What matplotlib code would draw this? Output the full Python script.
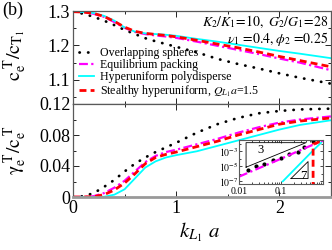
import numpy as np
import matplotlib
matplotlib.use("Agg")
import matplotlib.pyplot as plt
from matplotlib.ticker import MultipleLocator, FixedLocator, NullFormatter, LogLocator

plt.rcParams['font.family'] = ['Liberation Serif', 'DejaVu Serif']
plt.rcParams['mathtext.fontset'] = 'stix'

# wavenumber k_{L1} a
k = [0, 0.1, 0.2, 0.3, 0.4, 0.5, 0.6, 0.7, 0.8, 0.9, 1.0, 1.2, 1.4, 1.6, 1.8, 2.0, 2.2, 2.5]

# top panel: c_e^T / c_T1
c_overlap = [1.298, 1.292, 1.283, 1.272, 1.259, 1.245, 1.233, 1.221, 1.212, 1.204, 1.196, 1.180, 1.161, 1.146, 1.133, 1.119, 1.106, 1.089]
c_equil   = [1.298, 1.297, 1.292, 1.283, 1.268, 1.251, 1.239, 1.233, 1.229, 1.226, 1.222, 1.211, 1.199, 1.187, 1.175, 1.162, 1.150, 1.128]
c_hyper   = [1.298, 1.297, 1.294, 1.286, 1.272, 1.252, 1.240, 1.235, 1.233, 1.231, 1.228, 1.219, 1.211, 1.202, 1.193, 1.184, 1.176, 1.163]
c_stealth = [1.298, 1.297, 1.293, 1.284, 1.270, 1.253, 1.241, 1.235, 1.232, 1.229, 1.225, 1.215, 1.204, 1.193, 1.181, 1.168, 1.156, 1.138]

# bottom panel: gamma_e^T / c_e^T
g_overlap = [0, 0.001, 0.005, 0.013, 0.022, 0.033, 0.043, 0.051, 0.058, 0.064, 0.070, 0.083, 0.094, 0.102, 0.108, 0.111, 0.113, 0.114]
g_equil   = [0, 0, 0.001, 0.005, 0.012, 0.021, 0.033, 0.045, 0.053, 0.058, 0.061, 0.068, 0.075, 0.083, 0.090, 0.096, 0.100, 0.104]
g_hyper   = [0, 0, 0, 0.0003, 0.003, 0.010, 0.024, 0.038, 0.046, 0.051, 0.054, 0.059, 0.066, 0.073, 0.080, 0.087, 0.093, 0.099]
g_stealth = [0, 0, 0.0005, 0.003, 0.009, 0.018, 0.030, 0.043, 0.051, 0.055, 0.058, 0.065, 0.072, 0.080, 0.087, 0.094, 0.098, 0.102]

# inset (log-log)
in_k_overlap = [0.0161, 0.0254, 0.040, 0.0634, 0.1, 0.158, 0.25, 0.359, 0.569]
in_g_overlap = [3.5e-6, 1.1e-5, 2.2e-5, 7.5e-5, 1.4e-4, 3.9e-4, 8.1e-4, 3.5e-3, 2.3e-2]
in_k_equil = [0.01, 0.02, 0.05, 0.1, 0.2, 0.4, 0.7, 1.0]
in_g_equil = [4.2e-7, 2.2e-6, 1.9e-5, 1.0e-4, 5.5e-4, 3e-3, 1.1e-2, 2.4e-2]
in_k_hyper = [0.11, 0.2, 0.4, 0.6, 0.9]
in_g_hyper = [1e-7, 3e-6, 1.5e-4, 1.5e-3, 1.3e-2]
in_k_stealth = [0.58, 0.58, 0.95]
in_g_stealth = [1e-8, 8e-3, 2.5e-2]
tri3_k = [0.0147, 0.0147, 0.394, 0.0147]
tri3_g = [7.5e-6, 1.33e-2, 1.33e-2, 7.5e-6]
tri7_k = [0.173, 0.44, 0.44, 0.173]
tri7_g = [2.4e-7, 4.2e-5, 2.4e-7, 2.4e-7]

labels = ['Overlapping spheres', 'Equilibrium packing', 'Hyperuniform polydisperse',
          r'Stealthy hyperuniform, $\mathit{Q_{L_1}a}$=1.5']

sty_overlap = dict(color='black', lw=2.0, linestyle=(0, (0.1, 3.0)), dash_capstyle='round')
sty_equil = dict(color='#ff00ff', lw=1.6, linestyle=(0, (4, 1.5, 1, 1.5)))
sty_hyper = dict(color='#00ffff', lw=1.3, linestyle='-')
sty_stealth = dict(color='#ff0000', lw=2.0, linestyle=(0, (2.5, 1.5)))

fig = plt.figure(figsize=(3.32, 2.5), dpi=100)
ax1 = fig.add_axes([0.22, 0.584, 0.777, 0.372])
ax2 = fig.add_axes([0.22, 0.212, 0.777, 0.372])

ax1.plot(k, c_overlap, label=labels[0], **sty_overlap)
ax1.plot(k, c_equil, label=labels[1], **sty_equil)
ax1.plot(k, c_hyper, label=labels[2], **sty_hyper)
ax1.plot(k, c_stealth, label=labels[3], **sty_stealth)

ax2.plot(k, g_overlap, **sty_overlap)
ax2.plot(k, g_equil, **sty_equil)
ax2.plot(k, g_hyper, **sty_hyper)
ax2.plot(k, g_stealth, **sty_stealth)

ax1.set_xlim(0, 2.5)
ax1.set_ylim(1.03, 1.3)
ax2.set_xlim(0, 2.5)
ax2.set_ylim(0, 0.12)

for ax in (ax1, ax2):
    ax.xaxis.set_major_locator(MultipleLocator(1))
    ax.xaxis.set_minor_locator(MultipleLocator(0.5))
    ax.tick_params(which='both', direction='in', top=True, right=True, labelsize=13, pad=2)
    ax.tick_params(which='major', length=4, width=0.6)
    ax.tick_params(which='minor', length=2.5, width=0.6)
    for s in ax.spines.values():
        s.set_color('0.35')
        s.set_linewidth(0.9)

ax1.yaxis.set_major_locator(FixedLocator([1.1, 1.2, 1.3]))
ax1.yaxis.set_minor_locator(FixedLocator([1.05, 1.15, 1.25]))
ax1.set_yticklabels(['1.1', '1.2', '1.3'])
ax1.xaxis.set_major_formatter(NullFormatter())

ax2.yaxis.set_major_locator(FixedLocator([0, 0.04, 0.08, 0.12]))
ax2.yaxis.set_minor_locator(FixedLocator([0.02, 0.06, 0.10]))
ax2.set_yticklabels(['0', '0.04', '0.08', '0.12'])
ax2.set_xticks([0, 1, 2])
ax2.set_xticklabels(['0', '1', '2'])
ax2.spines['bottom'].set_color('0.6')
ax2.spines['bottom'].set_linewidth(2.0)

ax1.legend(loc='lower left', bbox_to_anchor=(-0.01, -0.04), frameon=False, fontsize=8.6,
           handlelength=1.3, handletextpad=0.5, labelspacing=0.0, borderpad=0.2)

ax1.text(0.99, 0.97, r'$\mathit{K_2/K_1\!=\!10,\ G_2/G_1\!=\!28}$', transform=ax1.transAxes,
         ha='right', va='top', fontsize=10)
ax1.text(0.99, 0.80, r'$\mathit{\nu_1\ \!=\!0.4, \phi_2\ \!=\!0.25}$', transform=ax1.transAxes,
         ha='right', va='top', fontsize=10)

fig.text(0.008, 0.995, '(b)', ha='left', va='top', fontsize=13)
fig.text(0.045, 0.78, r'$\mathrm{c_e^{\ T}/c_{T_1}}$', rotation=90, ha='center', va='center', fontsize=14.5)
fig.text(0.045, 0.40, r'$\mathrm{\gamma_e^{\ T}/c_e^{\ T}}$', rotation=90, ha='center', va='center', fontsize=14)
fig.text(0.60, 0.07, r'$k_{L_1}\ a$', ha='center', va='center', fontsize=15)

# inset
axi = fig.add_axes([0.72, 0.264, 0.253, 0.176])
axi.set_xscale('log')
axi.set_yscale('log')
axi.plot(in_k_overlap, in_g_overlap, 'o', color='black', ms=2.0)
axi.plot(in_k_equil, in_g_equil, **sty_equil)
axi.plot(in_k_hyper, in_g_hyper, **sty_hyper)
axi.plot(in_k_stealth, in_g_stealth, **sty_stealth)
axi.plot(tri3_k, tri3_g, color='black', lw=0.6)
axi.plot(tri7_k, tri7_g, color='black', lw=0.6)
axi.text(0.033, 1.3e-3, '3', fontsize=9, ha='center', va='center')
axi.text(0.334, 5.6e-7, '7', fontsize=9, ha='center', va='center')
axi.set_xlim(0.01, 1.0)
axi.set_ylim(4.5e-8, 3e-2)
axi.xaxis.set_major_locator(FixedLocator([0.01, 0.1]))
axi.xaxis.set_minor_locator(LogLocator(subs=np.arange(2, 10)))
axi.xaxis.set_minor_formatter(NullFormatter())
axi.set_xticklabels(['0.01', '0.1'])
axi.yaxis.set_major_locator(FixedLocator([1e-7, 1e-5, 1e-3]))
axi.yaxis.set_minor_locator(FixedLocator([1e-6, 1e-4, 1e-2]))
axi.yaxis.set_minor_formatter(NullFormatter())
axi.set_yticklabels([r'$10^{-7}$', r'$10^{-5}$', r'$10^{-3}$'])
axi.tick_params(which='both', direction='in', top=True, right=True, labelsize=7)
axi.tick_params(axis='x', pad=2.5)
axi.tick_params(axis='y', pad=0.5)
axi.tick_params(which='major', length=2.5, width=0.5)
axi.tick_params(which='minor', length=1.5, width=0.5)
for s in axi.spines.values():
    s.set_color('0.35')
    s.set_linewidth(0.8)

fig.savefig('out.png', dpi=100)
